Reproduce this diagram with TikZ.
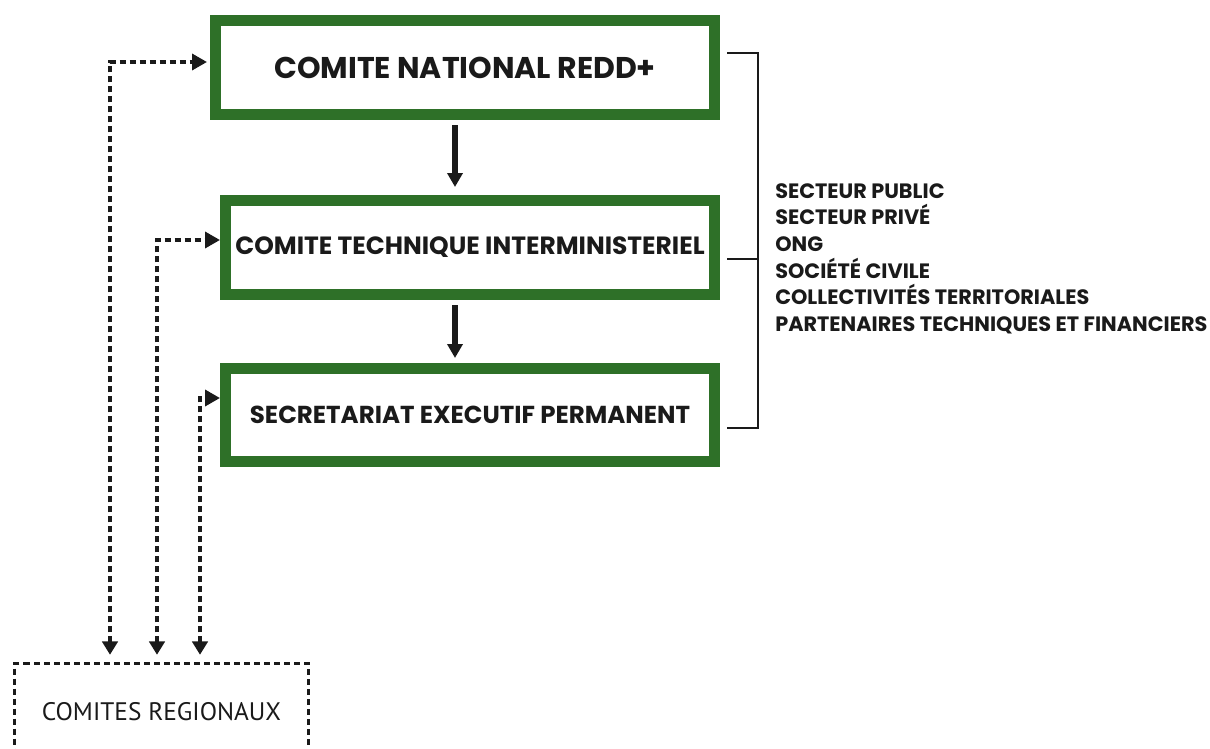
\documentclass[tikz,border=0pt]{standalone}
\usepackage{fontspec}
\usetikzlibrary{arrows.meta,calc}
\newfontfamily\boxfont{Poppins}
\newfontfamily\crfont{PT Sans}
\definecolor{boxgreen}{RGB}{46,112,40}
\definecolor{ink}{RGB}{26,26,26}
\begin{document}
\begin{tikzpicture}[x=0.75pt,y=-0.75pt,
  greenbox/.style={draw=boxgreen,line width=8.25pt,fill=white,inner sep=0pt,text=ink,font=\boxfont\bfseries},
  crbox/.style={draw=ink,line width=2.6pt,dash pattern=on 4.5pt off 3pt,inner sep=0pt,text=ink,font=\crfont\fontsize{19}{21}\selectfont},
  downarrow/.style={draw=ink,line width=4.5pt,-{Triangle[width=11.25pt,length=10.5pt]}},
  dasharrow/.style={draw=ink,line width=2.6pt,dash pattern=on 4.5pt off 3pt,
     {Triangle[width=11.5pt,length=10pt,sep=0pt]}-{Triangle[width=12pt,length=11.25pt]}},
  bracket/.style={draw=ink,line width=1.5pt},
  listtext/.style={text=ink,font=\boxfont\bfseries\fontsize{15.6}{20}\selectfont,align=left,inner sep=0pt,anchor=north west}
]
\useasboundingbox (0,0) rectangle (1210,749);
\fill[white] (0,0) rectangle (1210,749);

\node[greenbox,minimum width=374.25pt,minimum height=70.5pt,font=\boxfont\bfseries\fontsize{22.5}{26}\selectfont] (b1) at (465,67.5) {COMITE NATIONAL REDD+};
\node[greenbox,minimum width=366.75pt,minimum height=70.5pt,font=\boxfont\bfseries\fontsize{18.7}{22}\selectfont] (b2) at (470,247.5) {COMITE TECHNIQUE INTERMINISTERIEL};
\node[greenbox,minimum width=366.75pt,minimum height=69.75pt,font=\boxfont\bfseries\fontsize{18.4}{22}\selectfont] (b3) at (470,415) {SECRETARIAT EXECUTIF PERMANENT};

\node[crbox,minimum width=220.5pt,minimum height=72.75pt] (cr) at (161.5,712) {COMITES REGIONAUX};

% vertical arrows
\coordinate (ax) at (455,0);
\draw[downarrow,shorten <=3.75pt,shorten >=6pt] (b1.south -| ax) -- (b2.north -| ax);
\draw[downarrow,shorten <=3.75pt,shorten >=3.75pt] (b2.south -| ax) -- (b3.north -| ax);

% dashed connectors
\coordinate (d1) at (110,62);
\coordinate (d2) at (157,240);
\coordinate (d3) at (200,398);
\draw[dasharrow,shorten <=5.25pt,shorten >=2.25pt] (cr.north -| d1) |- (b1.west |- d1);
\draw[dasharrow,shorten <=5.25pt,shorten >=0pt] (cr.north -| d2) |- (b2.west |- d2);
\draw[dasharrow,shorten <=5.25pt,shorten >=0pt] (cr.north -| d3) |- (b3.west |- d3);

% bracket
\coordinate (k1) at (727,53);
\coordinate (k2) at (727,259);
\coordinate (k3) at (727,428);
\coordinate (kx) at (758,0);
\draw[bracket] (k1) -- (k1 -| kx) -- (k3 -| kx) -- (k3);
\draw[bracket] (k2) -- (k2 -| kx);

\node[listtext] (list) at (775,183) {SECTEUR PUBLIC\\SECTEUR PRIVÉ\\ONG\\SOCIÉTÉ CIVILE\\COLLECTIVITÉS TERRITORIALES\\PARTENAIRES TECHNIQUES ET FINANCIERS};
\end{tikzpicture}
\end{document}
